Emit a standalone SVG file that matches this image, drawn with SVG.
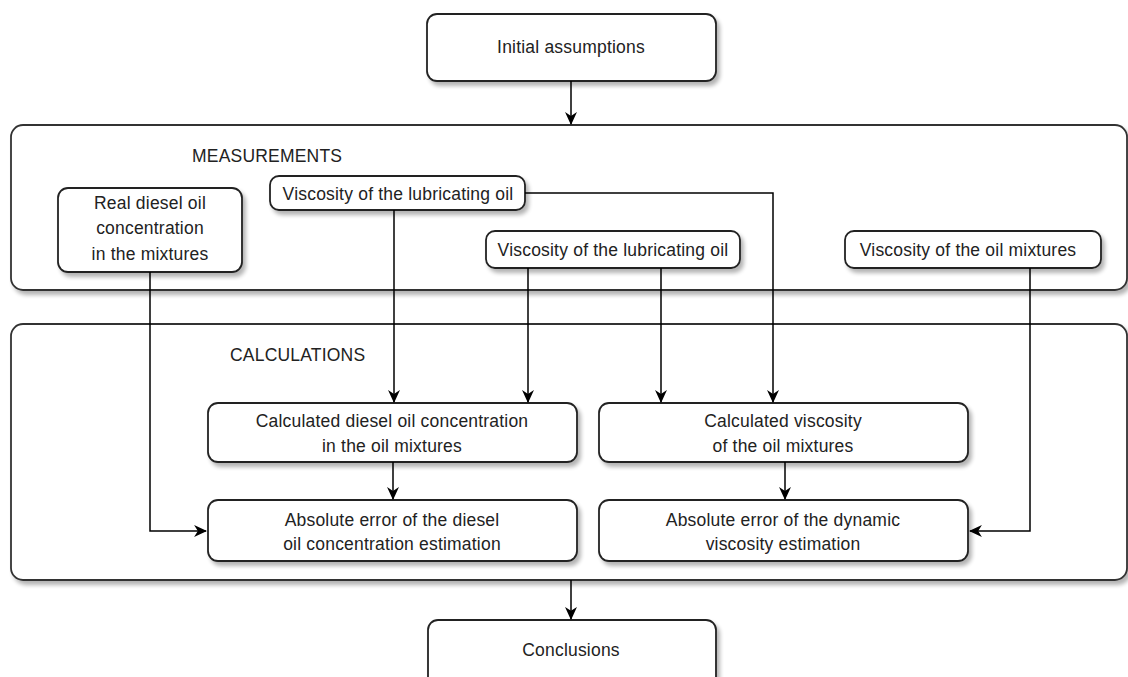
<svg xmlns="http://www.w3.org/2000/svg" width="1128" height="677" viewBox="0 0 1128 677">
<style>
.box{fill:#fff;stroke:#222;stroke-width:1.8;filter:url(#sh)}
.cont{fill:#fff;stroke:#333;stroke-width:1.8;filter:url(#sh)}
.t{font-family:"Liberation Sans",Arial,sans-serif;font-size:17.5px;letter-spacing:0.2px;fill:#222;text-anchor:middle}
.lbl{font-family:"Liberation Sans",Arial,sans-serif;font-size:17.5px;letter-spacing:0.2px;fill:#222}
.c{fill:none;stroke:#000;stroke-width:1.5}
</style>
<defs>
<filter id="sh" x="-10%" y="-10%" width="130%" height="140%">
<feGaussianBlur in="SourceAlpha" stdDeviation="2"/>
<feOffset dx="3" dy="4" result="b"/>
<feComponentTransfer><feFuncA type="linear" slope="0.3"/></feComponentTransfer>
<feMerge><feMergeNode/><feMergeNode in="SourceGraphic"/></feMerge>
</filter>
<marker id="ar" viewBox="0 0 12 12" refX="11" refY="6" markerWidth="13" markerHeight="13" markerUnits="userSpaceOnUse" orient="auto">
<path d="M0,0.5 L12,6 L0,11.5 L3.5,6 Z" fill="#000"/>
</marker>
</defs>
<g id="measurements">
<rect class="cont" x="11" y="125" width="1116" height="165" rx="12"/>
<text class="lbl" x="192" y="162">MEASUREMENTS</text>
</g>
<g id="calculations">
<rect class="cont" x="11" y="324" width="1116" height="256" rx="12"/>
<text class="lbl" x="230" y="361">CALCULATIONS</text>
</g>
<g id="initial">
<rect class="box" x="427" y="14" width="289" height="67" rx="10"/>
<text class="t" x="571" y="53">Initial assumptions</text>
</g>
<g id="real-diesel">
<rect class="box" x="58" y="188" width="184" height="84" rx="10"/>
<text class="t" x="150" y="209">Real diesel oil</text>
<text class="t" x="150" y="234">concentration</text>
<text class="t" x="150" y="260">in the mixtures</text>
</g>
<g id="visc-lub-1">
<rect class="box" x="270" y="176" width="255" height="34" rx="9"/>
<text class="t" x="398" y="200">Viscosity of the lubricating oil</text>
</g>
<g id="visc-lub-2">
<rect class="box" x="486" y="231" width="254" height="37" rx="9"/>
<text class="t" x="613" y="256">Viscosity of the lubricating oil</text>
</g>
<g id="visc-mix">
<rect class="box" x="845" y="231" width="256" height="37" rx="9"/>
<text class="t" x="968" y="256">Viscosity of the oil mixtures</text>
</g>
<g id="calc-diesel">
<rect class="box" x="208" y="403" width="369" height="59" rx="10"/>
<text class="t" x="392" y="427">Calculated diesel oil concentration</text>
<text class="t" x="392" y="452">in the oil mixtures</text>
</g>
<g id="calc-visc">
<rect class="box" x="599" y="403" width="369" height="59" rx="10"/>
<text class="t" x="783" y="427">Calculated viscosity</text>
<text class="t" x="783" y="452">of the oil mixtures</text>
</g>
<g id="abs-diesel">
<rect class="box" x="208" y="500" width="369" height="61" rx="10"/>
<text class="t" x="392" y="526">Absolute error of the diesel</text>
<text class="t" x="392" y="550">oil concentration estimation</text>
</g>
<g id="abs-visc">
<rect class="box" x="599" y="500" width="369" height="61" rx="10"/>
<text class="t" x="783" y="526">Absolute error of the dynamic</text>
<text class="t" x="783" y="550">viscosity estimation</text>
</g>
<g id="conclusions">
<rect class="box" x="428" y="620" width="288" height="70" rx="10"/>
<text class="t" x="571" y="656">Conclusions</text>
</g>
<g id="connectors">
<path class="c" d="M571,81 V124" marker-end="url(#ar)"/>
<path class="c" d="M150,272 V531 H206" marker-end="url(#ar)"/>
<path class="c" d="M394,210 V402" marker-end="url(#ar)"/>
<path class="c" d="M525,193 H773 V402" marker-end="url(#ar)"/>
<path class="c" d="M528,268 V402" marker-end="url(#ar)"/>
<path class="c" d="M661,268 V402" marker-end="url(#ar)"/>
<path class="c" d="M1030,268 V531 H970" marker-end="url(#ar)"/>
<path class="c" d="M393,462 V499" marker-end="url(#ar)"/>
<path class="c" d="M785,462 V499" marker-end="url(#ar)"/>
<path class="c" d="M571,580 V619" marker-end="url(#ar)"/>
</g>
</svg>
